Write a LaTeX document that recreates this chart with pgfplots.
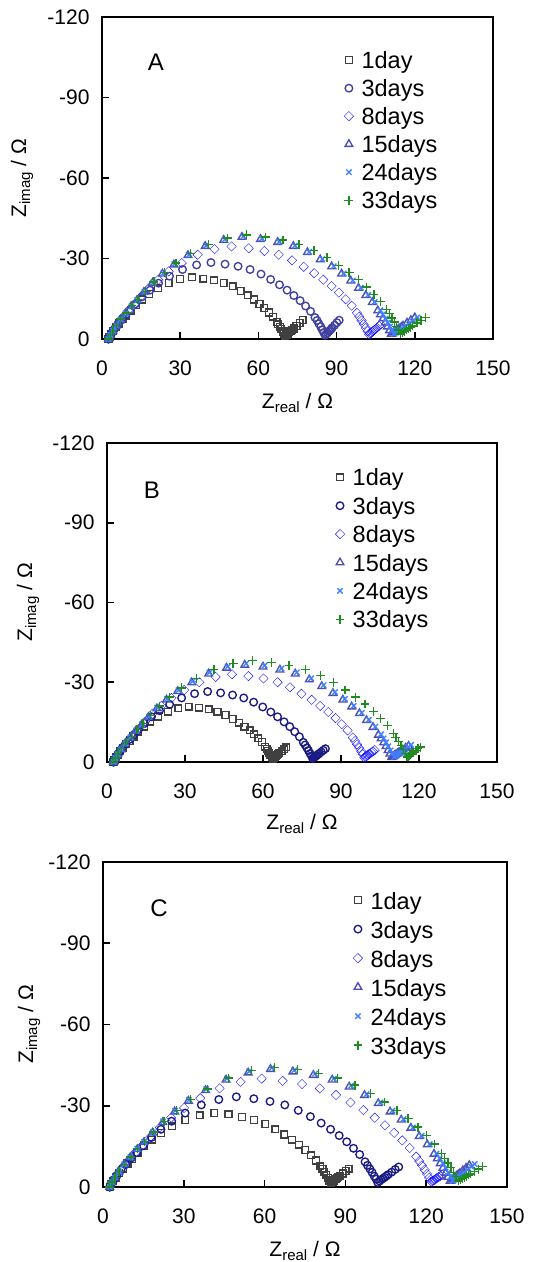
\documentclass[border=0pt]{standalone}
\usepackage{fontspec}
\setmainfont{Liberation Sans}
\usepackage{pgfplots}
\pgfplotsset{compat=1.18}
\definecolor{cgray}{HTML}{404040}
\definecolor{cnavyA}{HTML}{3F3FA0}
\definecolor{cnavy}{HTML}{1A1A85}
\definecolor{cblue}{HTML}{1414FF}
\definecolor{cslate}{HTML}{4D4DB3}
\definecolor{clight}{HTML}{4080FF}
\definecolor{cgreen}{HTML}{1E8C1E}
\pgfplotsset{
  mk/.style={only marks, mark options={solid, line width=1.35pt, fill=none},
    legend image code/.code={\draw[mark repeat=2,mark phase=2,##1] plot coordinates {(0pt,2.4pt) (6pt,2.4pt) (12pt,2.4pt)};}},
  s1/.style={mk, color=cgray, mark=square, mark size=3.4pt},
  s3/.style={mk, color=#1, mark=o, mark size=3.8pt},
  s8/.style={mk, color=cblue, mark=square, mark size=3.3pt, mark options={rotate=45}},
  s15/.style={mk, color=cslate, mark=triangle, mark size=4.4pt},
  s24/.style={mk, color=clight, mark=x, mark size=3.8pt},
  s33/.style={mk, color=cgreen, mark=+, mark size=4.4pt},
  eis/.style={
    scale only axis, anchor=south west,
    xmin=0, xmax=150, ymin=-120, ymax=0, y dir=reverse,
    xtick={0,30,60,90,120,150}, xticklabels={0,30,60,90,120,150},
    ytick={-120,-90,-60,-30,0}, yticklabels={-120,-90,-60,-30,0},
    tick align=inside, tick pos=left, major tick length=7pt,
    every tick/.style={black, line width=1.6pt},
    axis line style={line width=2.2pt},
    ticklabel style={font=\fontsize{21}{21}\selectfont},
    xticklabel style={yshift=-18pt},
    yticklabel style={xshift=-9pt},
    clip=false,
    xlabel={Z\raisebox{-4pt}{\fontsize{15}{15}\selectfont real} / Ω},
    ylabel={Z\raisebox{-4pt}{\fontsize{15}{15}\selectfont imag} / Ω},
    label style={font=\fontsize{21}{21}\selectfont},
    legend cell align=left,
    legend style={draw=none, fill=none, inner sep=0pt, anchor=north west,
      row sep=0pt, font=\fontsize{23.5}{23.5}\selectfont,
      /tikz/every odd column/.append style={column sep=8pt}},
  }
}
\begin{document}
\begin{tikzpicture}
\useasboundingbox (0pt,0pt) rectangle (558pt,1262pt);
% ---------------- Panel A ----------------
\begin{axis}[eis, at={(102pt,923pt)}, width=391pt, height=322pt,
  xlabel style={at={(axis description cs:0.5,-0.217)}, anchor=base},
  ylabel style={at={(axis description cs:-0.194,0.5)}, anchor=base},
  legend style={at={(axis description cs:0.619,0.9025)},
    nodes={inner sep=0pt, text height=20pt, text depth=8pt}}]
\addplot[s1] coordinates {(2.5,0) (2.9,-0.9) (3.5,-1.8) (4.3,-3.0) (5.4,-4.4) (6.6,-5.8) (7.9,-7.4) (9.3,-8.7) (11.0,-10.6) (13.0,-12.7) (15.4,-14.7) (18.1,-16.8) (21.5,-18.9) (25.6,-20.9) (30.0,-22.3) (34.5,-23.0) (38.9,-22.5) (43.0,-21.9) (46.7,-20.9) (50.1,-19.6) (53.2,-17.9) (55.9,-16.3) (58.3,-14.7) (60.4,-13.1) (62.3,-11.5) (64.0,-9.9) (65.6,-8.3) (67.0,-6.4) (68.2,-4.6) (69.3,-2.8) (70.2,-1.2) (71.3,-2.0) (72.4,-2.9) (73.5,-3.9) (74.6,-4.9) (75.8,-5.9) (77.0,-7.0) (67.6,-5.5) (68.8,-3.7) (69.8,-2.0) (70.8,-1.6) (71.9,-2.5) (73.0,-3.4)};
\addplot[s3=cnavyA] coordinates {(2.5,0) (3.0,-1.1) (3.8,-2.3) (4.8,-3.7) (6.0,-5.4) (7.5,-7.1) (9.2,-9.1) (10.9,-10.8) (12.9,-13.1) (15.4,-15.7) (18.4,-18.2) (21.7,-20.8) (25.9,-23.4) (30.9,-25.9) (36.3,-27.6) (41.8,-28.5) (47.2,-27.9) (52.2,-27.1) (56.8,-25.9) (61.0,-24.2) (64.7,-22.2) (68.1,-20.2) (71.0,-18.2) (73.6,-16.2) (76.0,-14.3) (78.1,-12.3) (80.0,-10.3) (81.7,-8.0) (83.2,-5.7) (84.5,-3.4) (85.6,-1.4) (86.5,-2.3) (87.4,-3.2) (88.3,-4.2) (89.2,-5.1) (90.1,-6.1) (91.0,-7.0) (82.5,-6.9) (83.9,-4.6) (85.1,-2.4) (86.0,-1.8) (87.0,-2.8) (87.9,-3.7)};
\addplot[s8] coordinates {(2.5,0) (3.1,-1.4) (4.0,-2.8) (5.2,-4.5) (6.7,-6.6) (8.5,-8.6) (10.5,-11.0) (12.6,-13.1) (15.1,-15.9) (18.1,-19.0) (21.6,-22.1) (25.6,-25.2) (30.6,-28.3) (36.7,-31.4) (43.2,-33.5) (49.7,-34.5) (56.3,-33.8) (62.3,-32.8) (67.8,-31.4) (72.9,-29.3) (77.4,-26.9) (81.4,-24.5) (84.9,-22.1) (88.1,-19.7) (90.9,-17.3) (93.5,-14.8) (95.8,-12.4) (97.8,-9.7) (99.6,-6.9) (101.2,-4.1) (102.5,-1.7) (103.3,-2.3) (104.0,-3.0) (104.8,-3.6) (105.5,-4.2) (106.3,-4.9) (107.0,-5.5) (98.7,-8.3) (100.4,-5.5) (101.9,-2.9) (102.9,-2.0) (103.7,-2.7) (104.4,-3.3)};
\addplot[s15] coordinates {(2.5,0) (3.2,-1.5) (4.1,-3.0) (5.4,-4.9) (7.1,-7.2) (9.0,-9.5) (11.2,-12.2) (13.4,-14.4) (16.1,-17.5) (19.4,-20.9) (23.2,-24.3) (27.6,-27.7) (33.0,-31.2) (39.6,-34.6) (46.7,-36.9) (53.7,-38.0) (60.8,-37.2) (67.4,-36.1) (73.4,-34.6) (78.8,-32.3) (83.7,-29.6) (88.1,-27.0) (91.9,-24.3) (95.4,-21.7) (98.4,-19.0) (101.2,-16.3) (103.7,-13.7) (105.8,-10.6) (107.8,-7.6) (109.5,-4.6) (111.0,-1.9) (112.5,-2.9) (114.0,-3.9) (115.5,-4.9) (117.0,-6.0) (118.5,-7.0) (120.0,-8.0) (106.8,-9.1) (108.7,-6.1) (110.3,-3.2) (111.8,-2.4) (113.3,-3.4) (114.8,-4.4)};
\addplot[s24] coordinates {(2.5,0) (3.2,-1.5) (4.2,-3.1) (5.5,-5.0) (7.1,-7.3) (9.1,-9.6) (11.3,-12.2) (13.5,-14.5) (16.3,-17.6) (19.6,-21.0) (23.4,-24.4) (27.8,-27.9) (33.3,-31.3) (39.9,-34.8) (47.1,-37.1) (54.2,-38.2) (61.4,-37.4) (68.0,-36.3) (74.0,-34.8) (79.5,-32.5) (84.5,-29.8) (88.9,-27.1) (92.7,-24.4) (96.2,-21.8) (99.3,-19.1) (102.1,-16.4) (104.6,-13.8) (106.8,-10.7) (108.8,-7.6) (110.5,-4.6) (112.0,-1.9) (113.5,-2.9) (115.0,-3.9) (116.5,-4.9) (118.0,-6.0) (119.5,-7.0) (121.0,-8.0) (107.8,-9.2) (109.7,-6.1) (111.3,-3.2) (112.8,-2.4) (114.3,-3.4) (115.8,-4.4)};
\addplot[s33] coordinates {(2.5,0) (3.2,-1.6) (4.2,-3.1) (5.5,-5.0) (7.2,-7.4) (9.3,-9.7) (11.5,-12.4) (13.8,-14.7) (16.6,-17.8) (19.9,-21.3) (23.9,-24.8) (28.4,-28.3) (34.0,-31.8) (40.8,-35.3) (48.1,-37.6) (55.4,-38.8) (62.7,-38.0) (69.4,-36.9) (75.6,-35.3) (81.3,-33.0) (86.3,-30.3) (90.8,-27.5) (94.8,-24.8) (98.4,-22.1) (101.5,-19.4) (104.3,-16.7) (106.9,-14.0) (109.2,-10.9) (111.2,-7.8) (113.0,-4.7) (114.4,-1.9) (116.0,-2.9) (117.6,-3.9) (119.2,-4.9) (120.8,-6.0) (122.4,-7.0) (124.0,-8.0) (110.2,-9.4) (112.1,-6.3) (113.7,-3.3) (115.2,-2.4) (116.8,-3.4) (118.4,-4.4)};
\legend{1day,3days,8days,15days,24days,33days}
\node[font=\fontsize{24}{24}\selectfont] at (axis description cs:0.138,0.86) {A};
\end{axis}
% ---------------- Panel B ----------------
\begin{axis}[eis, at={(107pt,500pt)}, width=390pt, height=319pt,
  xlabel style={at={(axis description cs:0.5,-0.213)}, anchor=base},
  ylabel style={at={(axis description cs:-0.192,0.5)}, anchor=base},
  legend style={at={(axis description cs:0.585,0.930)},
    nodes={inner sep=0pt, text height=20.4pt, text depth=8pt}}]
\addplot[s1] coordinates {(2.5,0) (2.9,-0.8) (3.4,-1.7) (4.2,-2.7) (5.1,-4.0) (6.2,-5.2) (7.4,-6.7) (8.7,-7.9) (10.2,-9.6) (12.0,-11.4) (14.2,-13.3) (16.7,-15.2) (19.7,-17.1) (23.4,-18.9) (27.4,-20.2) (31.4,-20.8) (35.4,-20.4) (39.1,-19.8) (42.5,-18.9) (45.6,-17.7) (48.3,-16.2) (50.8,-14.8) (52.9,-13.3) (54.9,-11.9) (56.6,-10.4) (58.2,-8.9) (59.6,-7.5) (60.8,-5.8) (61.9,-4.2) (62.9,-2.5) (63.7,-1.0) (64.6,-1.8) (65.5,-2.5) (66.3,-3.3) (67.2,-4.0) (68.1,-4.8) (69.0,-5.5) (61.4,-5.0) (62.4,-3.4) (63.3,-1.8) (64.2,-1.4) (65.1,-2.2) (65.9,-2.9)};
\addplot[s3=cnavy] coordinates {(2.5,0) (3.0,-1.1) (3.7,-2.1) (4.6,-3.4) (5.7,-5.0) (7.1,-6.6) (8.7,-8.5) (10.2,-10.1) (12.1,-12.2) (14.4,-14.6) (17.1,-17.0) (20.2,-19.3) (24.1,-21.7) (28.7,-24.1) (33.7,-25.7) (38.7,-26.5) (43.7,-26.0) (48.3,-25.2) (52.6,-24.1) (56.4,-22.5) (59.9,-20.7) (63.0,-18.8) (65.6,-17.0) (68.1,-15.1) (70.3,-13.3) (72.2,-11.4) (74.0,-9.5) (75.5,-7.4) (76.9,-5.3) (78.1,-3.2) (79.1,-1.3) (79.9,-1.9) (80.7,-2.5) (81.6,-3.2) (82.4,-3.8) (83.2,-4.4) (84.0,-5.0) (76.2,-6.4) (77.5,-4.3) (78.6,-2.3) (79.5,-1.6) (80.3,-2.2) (81.2,-2.9)};
\addplot[s8] coordinates {(2.5,0) (3.1,-1.3) (4.0,-2.6) (5.1,-4.3) (6.6,-6.3) (8.3,-8.3) (10.3,-10.6) (12.2,-12.5) (14.6,-15.2) (17.5,-18.2) (20.9,-21.1) (24.8,-24.1) (29.7,-27.1) (35.5,-30.0) (41.8,-32.0) (48.1,-33.0) (54.4,-32.3) (60.2,-31.4) (65.6,-30.0) (70.4,-28.1) (74.8,-25.7) (78.7,-23.4) (82.0,-21.1) (85.1,-18.8) (87.9,-16.5) (90.3,-14.2) (92.5,-11.9) (94.5,-9.2) (96.2,-6.6) (97.8,-4.0) (99.0,-1.7) (99.7,-2.2) (100.3,-2.6) (101.0,-3.1) (101.7,-3.6) (102.3,-4.0) (103.0,-4.5) (95.4,-7.9) (97.0,-5.3) (98.4,-2.9) (99.4,-1.9) (100.0,-2.4) (100.7,-2.9)};
\addplot[s15] coordinates {(2.5,0) (3.2,-1.5) (4.1,-2.9) (5.4,-4.7) (7.0,-6.9) (9.0,-9.1) (11.1,-11.7) (13.3,-13.9) (15.9,-16.8) (19.2,-20.1) (22.9,-23.4) (27.2,-26.6) (32.6,-29.9) (39.1,-33.2) (46.0,-35.4) (53.0,-36.5) (60.0,-35.8) (66.5,-34.7) (72.4,-33.2) (77.8,-31.0) (82.6,-28.5) (86.9,-25.9) (90.7,-23.4) (94.1,-20.8) (97.1,-18.3) (99.8,-15.7) (102.3,-13.1) (104.4,-10.2) (106.4,-7.3) (108.1,-4.4) (109.5,-1.8) (110.6,-2.5) (111.7,-3.2) (112.8,-3.9) (113.8,-4.6) (114.9,-5.3) (116.0,-6.0) (105.4,-8.8) (107.3,-5.9) (108.8,-3.1) (110.1,-2.1) (111.2,-2.9) (112.3,-3.6)};
\addplot[s24] coordinates {(2.5,0) (3.2,-1.5) (4.1,-3.0) (5.4,-4.8) (7.1,-7.0) (9.0,-9.3) (11.2,-11.8) (13.4,-14.1) (16.1,-17.0) (19.3,-20.4) (23.1,-23.7) (27.5,-27.0) (32.9,-30.3) (39.4,-33.7) (46.4,-35.9) (53.5,-37.0) (60.6,-36.3) (67.1,-35.2) (73.0,-33.7) (78.5,-31.5) (83.3,-28.9) (87.7,-26.3) (91.5,-23.7) (94.9,-21.1) (98.0,-18.5) (100.7,-15.9) (103.2,-13.3) (105.4,-10.4) (107.3,-7.4) (109.1,-4.4) (110.5,-1.9) (111.6,-2.7) (112.7,-3.4) (113.8,-4.2) (114.8,-5.0) (115.9,-5.7) (117.0,-6.5) (106.4,-8.9) (108.2,-5.9) (109.8,-3.2) (111.1,-2.3) (112.2,-3.1) (113.3,-3.8)};
\addplot[s33] coordinates {(2.5,0) (3.2,-1.5) (4.2,-3.1) (5.6,-5.0) (7.3,-7.3) (9.3,-9.6) (11.6,-12.2) (13.9,-14.5) (16.7,-17.6) (20.1,-21.0) (24.1,-24.4) (28.6,-27.9) (34.3,-31.3) (41.1,-34.8) (48.5,-37.1) (55.9,-38.2) (63.2,-37.4) (70.0,-36.3) (76.3,-34.8) (82.0,-32.5) (87.1,-29.8) (91.6,-27.1) (95.6,-24.4) (99.2,-21.8) (102.4,-19.1) (105.2,-16.4) (107.8,-13.8) (110.1,-10.7) (112.1,-7.6) (114.0,-4.6) (115.4,-1.9) (116.3,-2.5) (117.1,-3.1) (117.9,-3.7) (118.8,-4.4) (119.6,-5.0) (120.5,-5.6) (111.1,-9.2) (113.1,-6.1) (114.7,-3.3) (115.9,-2.2) (116.7,-2.8) (117.5,-3.4)};
\legend{1day,3days,8days,15days,24days,33days}
\node[font=\fontsize{24}{24}\selectfont] at (axis description cs:0.115,0.853) {B};
\end{axis}
% ---------------- Panel C ----------------
\begin{axis}[eis, at={(103pt,75pt)}, width=404pt, height=325pt,
  xlabel style={at={(axis description cs:0.5,-0.215)}, anchor=base},
  ylabel style={at={(axis description cs:-0.173,0.5)}, anchor=base},
  legend style={at={(axis description cs:0.619,0.9206)},
    nodes={inner sep=0pt, text height=21pt, text depth=8pt}}]
\addplot[s1] coordinates {(2.5,0) (3.0,-1.1) (3.7,-2.2) (4.7,-3.5) (6.0,-5.2) (7.5,-6.8) (9.1,-8.7) (10.8,-10.4) (12.8,-12.6) (15.3,-15.0) (18.2,-17.5) (21.5,-19.9) (25.6,-22.4) (30.6,-24.8) (35.9,-26.5) (41.3,-27.3) (46.6,-26.8) (51.6,-25.9) (56.1,-24.8) (60.3,-23.2) (64.0,-21.3) (67.3,-19.4) (70.2,-17.5) (72.8,-15.6) (75.1,-13.7) (77.2,-11.7) (79.1,-9.8) (80.7,-7.6) (82.2,-5.5) (83.5,-3.3) (84.6,-1.4) (85.7,-2.3) (86.8,-3.2) (87.9,-4.1) (89.0,-5.0) (90.1,-5.9) (91.2,-6.8) (81.5,-6.6) (82.9,-4.4) (84.1,-2.4) (85.2,-1.9) (86.3,-2.8) (87.4,-3.7)};
\addplot[s3=cnavy] coordinates {(2.5,0) (3.1,-1.3) (4.0,-2.7) (5.2,-4.3) (6.7,-6.3) (8.5,-8.3) (10.5,-10.7) (12.5,-12.7) (15.0,-15.3) (18.0,-18.3) (21.5,-21.3) (25.5,-24.3) (30.5,-27.3) (36.5,-30.3) (43.0,-32.3) (49.5,-33.3) (56.0,-32.6) (62.0,-31.6) (67.5,-30.3) (72.5,-28.3) (77.0,-26.0) (81.0,-23.6) (84.5,-21.3) (87.7,-19.0) (90.5,-16.7) (93.0,-14.3) (95.3,-12.0) (97.3,-9.3) (99.1,-6.7) (100.7,-4.0) (102.0,-1.7) (103.3,-2.7) (104.6,-3.6) (105.9,-4.6) (107.2,-5.5) (108.5,-6.5) (109.8,-7.4) (98.2,-8.0) (99.9,-5.4) (101.4,-2.9) (102.7,-2.2) (104.0,-3.2) (105.3,-4.1)};
\addplot[s8] coordinates {(2.5,0) (3.2,-1.6) (4.3,-3.2) (5.7,-5.2) (7.5,-7.6) (9.7,-10.0) (12.1,-12.8) (14.5,-15.2) (17.5,-18.4) (21.1,-22.0) (25.3,-25.6) (30.1,-29.2) (36.1,-32.8) (43.3,-36.4) (51.1,-38.8) (58.9,-40.0) (66.7,-39.2) (73.9,-38.0) (80.5,-36.4) (86.5,-34.0) (91.9,-31.2) (96.7,-28.4) (100.9,-25.6) (104.7,-22.8) (108.1,-20.0) (111.1,-17.2) (113.9,-14.4) (116.3,-11.2) (118.4,-8.0) (120.3,-4.8) (121.9,-2.0) (122.6,-2.4) (123.3,-2.8) (124.0,-3.3) (124.6,-3.7) (125.3,-4.1) (126.0,-4.5) (117.4,-9.6) (119.4,-6.4) (121.1,-3.4) (122.3,-2.2) (123.0,-2.6) (123.7,-3.1)};
\addplot[s15] coordinates {(2.5,0) (3.3,-1.7) (4.4,-3.5) (5.9,-5.7) (7.8,-8.3) (10.1,-10.9) (12.7,-13.9) (15.2,-16.5) (18.4,-20.0) (22.2,-23.9) (26.6,-27.8) (31.7,-31.8) (38.1,-35.7) (45.7,-39.6) (53.9,-42.2) (62.2,-43.5) (70.5,-42.6) (78.1,-41.3) (85.1,-39.6) (91.4,-37.0) (97.1,-33.9) (102.2,-30.9) (106.6,-27.8) (110.7,-24.8) (114.3,-21.8) (117.4,-18.7) (120.4,-15.7) (122.9,-12.2) (125.2,-8.7) (127.2,-5.2) (128.9,-2.2) (130.1,-3.2) (131.3,-4.1) (132.5,-5.1) (133.6,-6.1) (134.8,-7.0) (136.0,-8.0) (124.1,-10.5) (126.2,-7.0) (128.1,-3.7) (129.5,-2.7) (130.7,-3.7) (131.9,-4.6)};
\addplot[s24] coordinates {(2.5,0) (3.3,-1.8) (4.4,-3.5) (6.0,-5.7) (7.9,-8.4) (10.2,-11.0) (12.7,-14.1) (15.3,-16.7) (18.5,-20.2) (22.3,-24.2) (26.8,-28.2) (31.9,-32.1) (38.3,-36.1) (46.0,-40.0) (54.3,-42.7) (62.7,-44.0) (71.0,-43.1) (78.7,-41.8) (85.7,-40.0) (92.1,-37.4) (97.9,-34.3) (103.0,-31.2) (107.5,-28.2) (111.6,-25.1) (115.1,-22.0) (118.3,-18.9) (121.3,-15.8) (123.8,-12.3) (126.2,-8.8) (128.2,-5.3) (129.9,-2.2) (131.3,-3.3) (132.6,-4.3) (134.0,-5.4) (135.3,-6.4) (136.7,-7.5) (138.0,-8.5) (125.0,-10.6) (127.2,-7.1) (129.1,-3.8) (130.6,-2.8) (132.0,-3.8) (133.3,-4.9)};
\addplot[s33] coordinates {(2.5,0) (3.3,-1.8) (4.5,-3.5) (6.0,-5.7) (8.0,-8.4) (10.3,-11.1) (12.9,-14.1) (15.5,-16.8) (18.8,-20.3) (22.7,-24.3) (27.2,-28.3) (32.4,-32.3) (38.9,-36.2) (46.7,-40.2) (55.2,-42.9) (63.6,-44.2) (72.1,-43.3) (79.9,-42.0) (87.0,-40.2) (93.5,-37.6) (99.4,-34.5) (104.6,-31.4) (109.1,-28.3) (113.3,-25.2) (116.9,-22.1) (120.2,-19.0) (123.1,-15.9) (125.7,-12.4) (128.1,-8.8) (130.2,-5.3) (131.9,-2.2) (133.4,-3.1) (134.9,-4.0) (136.5,-4.8) (138.0,-5.7) (139.5,-6.6) (141.0,-7.5) (126.9,-10.6) (129.2,-7.1) (131.1,-3.8) (132.7,-2.7) (134.2,-3.6) (135.7,-4.4)};
\legend{1day,3days,8days,15days,24days,33days}
\node[font=\fontsize{24}{24}\selectfont] at (axis description cs:0.139,0.858) {C};
\end{axis}
\end{tikzpicture}
\end{document}
